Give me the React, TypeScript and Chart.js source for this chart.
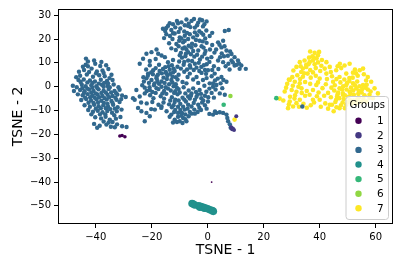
import React, { useEffect, useRef } from "react";
import { Chart, registerables } from "chart.js";
Chart.register(...registerables);

// ---------- data ----------
const groupLabels = ["1", "2", "3", "4", "5", "6", "7"];
const groupColors = ["#440154", "#443983", "#31688e", "#21918c", "#35b779", "#90d743", "#fde725"];
const xTicks = [-40, -20, 0, 20, 40, 60];
const yTicks = [-50, -40, -30, -20, -10, 0, 10, 20, 30];
const xLabel = "TSNE - 1";
const yLabel = "TSNE - 2";
const legendTitle = "Groups";

const group1Points: number[][] = [[-31.4, -20.7], [-30.6, -20.5], [-29.6, -21.0], [1.4, -40.0]];
const group1Sizes = [1.8, 1.8, 1.8, 0.9];

const group2Points: number[][] = [[8.7, -17.9], [9.4, -18.2], [9.0, -17.5], [8.4, -17.0], [10.2, -12.4]];

const group3Points: number[][] = [
  // left cluster
  [-43.5, 11.8], [-42.8, 10.6], [-43.6, 9.2], [-40.2, 9.6], [-38.4, 8.7], [-36.3, 9.0],
  [-41.5, 7.6], [-44.2, 7.0], [-39.6, 6.4], [-37.6, 6.8], [-35.5, 7.4], [-46.0, 6.3],
  [-45.6, 4.6], [-43.2, 5.1], [-41.0, 4.2], [-38.8, 4.8], [-36.8, 4.4], [-34.4, 5.0], [-47.0, 4.0], [-39.9, 5.6],
  [-46.2, 2.8], [-44.3, 3.0], [-42.1, 2.6], [-40.3, 2.2], [-38.2, 2.9], [-36.0, 2.4], [-34.0, 2.8], [-35.1, 3.6], [-43.0, 1.8],
  [-48.2, 0.4], [-46.8, -0.2], [-45.0, 0.8], [-43.6, 0.2], [-41.6, 0.6], [-39.8, 0.2], [-37.8, 0.8], [-35.8, 0.3], [-33.6, 0.9], [-31.9, -0.2], [-38.9, 1.3],
  [-47.8, -1.8], [-45.6, -1.4], [-44.0, -1.9], [-42.4, -1.2], [-40.8, -1.8], [-39.0, -1.1], [-37.2, -1.7], [-35.4, -1.0], [-33.3, -1.8], [-31.5, -1.3], [-41.6, -2.5], [-38.0, -2.6], [-34.5, -2.4],
  [-46.4, -3.2], [-44.7, -3.6], [-42.9, -3.1], [-41.2, -3.8], [-39.4, -3.3], [-37.6, -3.9], [-35.8, -3.4], [-34.0, -3.9], [-32.3, -3.3], [-30.6, -3.7], [-29.3, -4.3], [-26.7, -4.8], [-40.4, -4.6], [-36.8, -4.8],
  [-45.2, -5.6], [-43.4, -5.2], [-41.7, -5.8], [-39.8, -5.3], [-38.0, -5.9], [-36.1, -5.4], [-34.4, -6.0], [-32.6, -5.5], [-30.9, -5.2], [-31.5, -6.4], [-37.1, -6.8], [-42.6, -6.7],
  [-44.0, -7.8], [-42.1, -8.4], [-40.6, -7.6], [-39.0, -8.2], [-37.3, -7.8], [-35.6, -8.4], [-33.8, -7.6], [-32.2, -8.6], [-36.4, -9.0], [-40.0, -9.2],
  [-42.7, -9.8], [-41.0, -10.5], [-39.3, -10.1], [-37.6, -10.7], [-35.9, -10.2], [-34.2, -10.9], [-32.5, -10.3], [-30.8, -9.6], [-38.5, -11.6], [-33.4, -12.0],
  [-40.2, -12.8], [-38.1, -13.3], [-36.5, -12.6], [-35.0, -13.8], [-32.8, -13.4], [-31.2, -12.7], [-37.2, -14.6], [-34.0, -14.8],
  [-40.6, -15.6], [-38.6, -16.4], [-36.2, -15.9], [-34.6, -16.8], [-32.4, -15.8], [-30.6, -16.6], [-29.0, -16.9], [-39.5, -17.2],
  [-44.8, -0.6], [-43.0, -0.8], [-41.2, -0.4], [-39.4, -0.6], [-37.2, 0.0], [-35.0, -0.2], [-45.4, 2.0], [-41.2, 1.6], [-37.0, 1.6], [-35.6, 1.4],
  [-43.8, -4.6], [-42.0, -4.4], [-38.8, -4.4], [-35.2, -4.4], [-33.0, -4.6], [-44.2, -2.6], [-40.0, -2.8], [-36.4, -2.4], [-32.8, -2.6],
  [-40.8, -6.8], [-39.2, -6.6], [-35.8, -7.2], [-34.0, -6.8], [-38.2, -9.0], [-34.8, -9.4], [-33.2, -9.2], [-41.6, -11.6], [-36.6, -11.6],
  [-35.4, -15.0], [-33.2, -17.0], [-42.8, 8.6], [-40.6, 11.0], [-38.0, 10.4], [-37.2, 5.8], [-42.4, 6.2], [-44.6, 8.4],
  // middle cluster
  [-7.6, 28.2], [-5.8, 27.6], [-3.4, 26.9], [-6.8, 26.4], [-2.0, 27.9], [-4.9, 28.4], [-12.4, 26.2], [-14.2, 25.5], [-10.6, 26.6], [-1.2, 26.2],
  [-16.0, 24.3], [-15.2, 23.4], [-11.6, 24.9], [-9.8, 24.4], [-7.0, 25.5], [-4.6, 24.8], [-1.7, 25.3], [-0.5, 23.6], [-8.4, 23.2], [-13.0, 23.8], [-3.0, 23.3], [6.1, 23.4], [7.5, 23.8],
  [-11.8, 22.3], [-13.5, 21.3], [-10.0, 20.7], [-6.4, 22.0], [-5.2, 20.7], [-2.3, 22.6], [0.7, 21.3], [-8.2, 21.4], [-3.8, 21.6], [-0.9, 20.2], [-14.8, 22.0], [1.6, 22.6],
  [-11.2, 17.9], [-8.8, 18.6], [-8.2, 19.3], [-2.9, 19.3], [-5.6, 18.0], [-0.4, 18.4], [3.7, 18.6], [5.5, 19.3], [-13.8, 18.2], [-6.8, 17.2], [1.6, 17.5], [-10.2, 19.3],
  [-8.2, 16.5], [-5.8, 16.5], [-3.4, 15.2], [-7.0, 14.5], [-1.5, 16.4], [0.8, 15.6], [4.9, 16.5], [6.7, 15.2], [-11.4, 15.4], [-9.6, 14.2], [2.4, 14.3],
  [-18.3, 15.6], [-20.1, 14.5], [-21.9, 13.8], [-17.7, 13.8], [-16.5, 13.1], [-15.3, 12.4], [-23.1, 11.7], [-13.0, 16.1],
  [-1.1, 13.8], [1.3, 12.4], [8.5, 13.7], [9.6, 12.4], [10.8, 11.0], [8.5, 11.0], [3.7, 11.0], [-7.0, 11.0], [-4.8, 12.6], [-9.2, 12.2], [-12.4, 11.2], [-14.2, 10.3], [-24.3, 9.6], [-2.8, 11.4], [5.8, 12.8], [-18.6, 11.6], [-20.7, 10.8],
  [12.0, 8.9], [13.6, 7.5], [11.4, 7.5], [9.6, 8.9], [7.4, 9.6], [5.5, 10.3], [-4.6, 9.6], [-2.3, 8.3], [-6.2, 8.0], [-8.6, 9.2], [-10.8, 8.4], [-12.8, 9.0], [-15.2, 8.2], [-17.4, 9.2], [-20.7, 9.0], [-19.5, 6.9], [-0.4, 9.4], [2.2, 8.6], [3.8, 7.4], [-13.6, 7.1], [-1.0, 7.0],
  [0.1, 6.9], [2.5, 5.5], [4.9, 4.1], [-6.4, 5.5], [-4.0, 4.1], [-8.4, 6.3], [-10.4, 5.0], [-12.4, 6.0], [-14.4, 4.6], [-16.4, 5.6], [-18.3, 4.2], [-21.3, 5.5], [-2.2, 5.8], [-11.4, 4.0], [-7.2, 4.1], [1.4, 4.4], [-17.2, 6.6], [-15.0, 6.2],
  [6.7, 2.1], [-1.7, 2.8], [0.7, 1.4], [-7.6, 1.4], [-21.9, 3.5], [-20.1, 2.8], [-18.3, 3.5], [-16.5, 2.2], [-14.6, 3.2], [-12.6, 1.8], [-10.8, 3.0], [-9.0, 2.0], [-5.2, 3.0], [-3.4, 1.6], [2.6, 2.6], [4.6, 1.4], [-13.8, 1.0], [-19.0, 1.4], [-0.4, 3.6],
  [3.1, 0.7], [1.9, 0.0], [-5.2, -0.7], [-2.9, -1.4], [-0.5, -2.1], [-16.5, 0.0], [-18.3, -0.6], [-20.7, -1.4], [-14.2, -0.8], [-12.2, 0.2], [-10.4, -1.0], [-8.6, -0.2], [-6.8, -1.6], [-22.5, -0.4], [-25.5, -1.4], [-1.2, 0.4], [5.2, -0.6], [-11.6, -1.9], [-15.6, -1.8],
  [-7.0, -4.1], [-4.6, -5.5], [-2.3, -4.8], [-22.5, -2.8], [-24.3, -4.1], [-26.1, -5.5], [-20.6, -3.6], [-18.6, -2.6], [-16.8, -4.0], [-14.8, -3.0], [-12.8, -4.4], [-10.8, -3.2], [-9.0, -4.6], [-5.8, -2.8], [-3.6, -3.2], [-1.0, -3.8], [1.4, -2.6], [-19.4, -4.8], [-15.6, -5.0], [-11.6, -5.4],
  [0.1, -6.2], [-3.4, -7.6], [-5.8, -8.3], [-7.8, -6.2], [-9.8, -7.2], [-11.8, -6.4], [-13.8, -7.4], [-15.8, -6.6], [-17.6, -7.6], [-19.8, -6.4], [-21.8, -7.0], [-23.8, -6.6], [-24.9, -8.9], [-1.6, -5.8], [-8.8, -8.4], [-12.8, -8.6], [-16.6, -8.9],
  [-23.7, -10.3], [-21.9, -11.0], [-18.9, -9.6], [-16.5, -8.3], [-14.7, -10.3], [-13.0, -11.7], [-10.6, -11.0], [-8.2, -9.6], [-6.4, -10.6], [-4.6, -11.3], [-5.8, -11.3], [-20.2, -9.4], [-11.6, -9.8], [-2.4, -9.8], [-8.0, -11.6],
  [-20.7, -12.4], [-22.5, -14.5], [-11.8, -13.8], [-10.0, -14.5], [-8.8, -13.1], [-7.6, -14.5], [-13.6, -12.6], [-12.4, -15.0], [-9.4, -12.2],
  [-22.0, 7.2], [-20.2, 6.0], [-18.6, 7.8], [-16.0, 7.4], [-14.0, 8.6], [-12.2, 7.6], [-21.4, 4.6], [-19.6, 5.2], [-17.8, 5.0], [-15.8, 3.8], [-13.4, 5.4], [-11.8, 6.6],
  [-22.8, 2.2], [-21.0, 1.6], [-19.2, 0.6], [-17.4, 1.2], [-15.4, 1.6], [-13.0, 2.8], [-11.4, 1.0], [-23.4, 0.6], [-21.8, -1.8], [-19.8, -2.2], [-17.6, -1.0], [-15.0, -0.2],
  [-13.2, -1.6], [-11.0, -0.4], [-20.8, -0.2], [-16.2, -2.8], [-23.0, 4.0], [-18.0, 2.4], [-14.8, 5.6], [-12.6, 4.2],
  [-10.4, 17.0], [-9.0, 16.0], [-7.6, 15.6], [-4.4, 17.4], [-2.2, 17.0], [-0.8, 15.0], [-10.0, 13.2], [-8.0, 12.8], [-6.0, 13.6], [-3.8, 13.4], [-2.0, 12.6], [-0.2, 11.8],
  [-10.2, 10.6], [-8.4, 10.4], [-5.6, 10.8], [-3.2, 10.0], [-1.4, 9.0], [0.6, 10.4], [-9.6, 7.6], [-7.4, 7.2], [-5.0, 7.0], [-3.0, 6.6], [-0.6, 5.4], [1.6, 7.0],
  [-6.4, 9.0], [-4.0, 8.0], [-7.8, 13.8], [-5.2, 15.0],
  [-12.0, -2.6], [-10.0, -2.4], [-8.0, -2.8], [-6.0, -3.8], [-4.2, -2.2], [-2.4, -3.0], [-13.4, -5.8], [-10.4, -5.8], [-8.4, -5.4], [-6.4, -5.0], [-4.0, -4.2], [-2.0, -6.6],
  [-12.2, -7.8], [-10.6, -8.4], [-7.0, -7.6], [-5.0, -6.8], [-3.0, -8.8], [-1.0, -7.8], [-9.8, -9.8], [-7.2, -9.2], [-4.8, -9.6], [-3.6, -10.6], [-12.0, -10.6], [-9.2, -11.0],
  [-6.8, -12.4], [-10.6, -12.6], [-8.0, -13.6], [-11.0, -14.8], [-9.0, -15.2],
  [-14.8, 24.6], [-13.6, 26.6], [-11.0, 27.6], [-9.4, 27.0], [-8.2, 25.8], [-6.2, 25.0], [-3.8, 25.8], [-12.4, 22.4], [-10.4, 23.0], [-7.4, 22.6], [-4.6, 22.8], [-1.6, 21.8],
  [-12.6, 20.0], [-9.4, 20.2], [-7.0, 20.0], [-4.2, 19.6], [-1.8, 19.0], [-15.6, 20.4], [-2.8, 28.2], [-0.4, 27.4],
  [4.2, 17.6], [6.0, 17.0], [5.0, 14.0], [7.2, 13.0], [9.0, 10.2], [10.4, 9.2], [6.4, 8.6], [4.4, 12.4], [3.0, 15.6], [8.0, 14.8], [11.2, 9.8], [7.8, 7.2],
  [1.9, 1.4], [4.3, -2.8], [6.1, -3.4], [0.6, -0.8], [2.8, -1.2], [3.6, 3.4], [5.6, 2.8], [0.2, -4.4], [2.2, -4.6], [-0.4, -9.2],
  // tail
  [1.9, -11.7], [3.1, -11.0], [4.3, -10.7], [5.5, -11.0], [6.7, -11.7], [7.0, -13.1], [7.3, -14.5], [7.9, -15.8], [8.2, -17.2], [2.6, -10.4], [0.6, -11.4],
  // stray in right cluster
  [33.8, -8.3],
];

const group4Points: number[][] = [
  [-5.6, -49.0], [-5.2, -49.2], [-4.6, -49.6], [-3.2, -50.0], [-2.8, -50.6], [-2.4, -50.3], [-1.6, -50.6],
  [-1.2, -51.0], [-0.8, -50.9], [0.0, -51.2], [0.8, -51.6], [1.6, -52.0], [2.0, -52.3],
];

const group5Points: number[][] = [[5.7, -7.6], [24.5, -4.8]];
const group6Points: number[][] = [[8.1, -3.9]];

const group7Points: number[][] = [
  [9.6, -13.8],
  [36.6, 14.8], [38.2, 14.2], [39.4, 13.2], [37.4, 12.8], [38.9, 11.9], [36.2, 12.2], [39.8, 14.6],
  [37.6, 11.0], [36.4, 10.3], [32.9, 10.3], [34.6, 11.0], [39.4, 10.2], [38.2, 9.4], [42.4, 10.3], [35.2, 9.2], [40.8, 11.2], [47.2, 9.6], [48.9, 8.9], [50.7, 9.6],
  [31.7, 8.3], [35.2, 8.3], [33.4, 6.2], [34.0, 7.6], [36.6, 7.0], [38.6, 7.8], [40.2, 6.6], [41.8, 7.6], [43.6, 8.3], [45.9, 6.9], [47.7, 7.8], [54.3, 6.9], [55.5, 7.6], [52.6, 7.2], [30.6, 6.8], [37.6, 6.0],
  [35.7, 5.5], [32.0, 4.8], [30.2, 4.0], [34.0, 4.2], [36.8, 3.8], [38.6, 4.6], [42.4, 5.5], [40.0, 3.4], [44.4, 4.4], [47.1, 4.1], [49.5, 5.5], [51.9, 5.9], [53.6, 4.6], [55.8, 5.2], [57.2, 4.1], [46.0, 3.2], [50.6, 3.6], [33.0, 3.2], [29.0, 3.0],
  [29.3, 2.8], [31.1, 2.1], [32.9, 1.4], [34.8, 2.0], [36.6, 1.2], [38.8, 0.7], [44.8, 2.1], [51.9, 1.4], [49.5, 0.7], [55.5, 0.7], [58.4, 2.1], [47.4, 1.8], [53.4, 2.2], [42.2, 1.0], [56.6, 2.6], [30.4, 0.4], [28.4, 1.2], [54.2, 0.2], [50.6, 2.4], [48.4, 0.2],
  [30.0, -1.4], [31.7, -2.1], [33.5, -0.7], [35.4, -1.8], [37.6, -1.4], [39.6, -2.4], [47.1, -0.7], [50.7, -2.1], [53.1, -0.7], [59.6, -0.7], [48.3, -2.8], [52.0, -1.6], [55.0, -2.4], [57.2, -1.2], [45.2, -1.6], [43.0, -2.6], [27.5, -2.0], [49.6, -1.2], [54.0, -1.8], [56.4, -0.4], [58.2, -2.0], [51.2, -0.4],
  [32.9, -5.5], [37.6, -5.5], [40.0, -5.5], [45.9, -5.5], [48.3, -3.4], [60.8, -2.8], [59.0, -4.8], [29.4, -4.2], [34.8, -3.8], [36.4, -3.4], [41.6, -3.8], [44.0, -4.4], [47.0, -4.8], [50.2, -4.2], [52.2, -3.4], [54.0, -4.6], [56.0, -3.6], [57.8, -3.4], [50.8, -5.6], [53.4, -5.4], [55.6, -5.2], [31.2, -3.6], [39.0, -4.0], [46.4, -3.2], [49.0, -3.6],
  [29.3, -6.2], [31.7, -6.9], [30.5, -8.3], [28.7, -9.0], [25.7, -5.0], [27.0, -5.8], [34.2, -7.2], [36.8, -7.8], [42.0, -7.0], [44.4, -7.6], [47.1, -9.0], [49.5, -7.6], [53.1, -6.9], [56.7, -6.2], [43.6, -7.6], [51.4, -7.2], [45.6, -6.4], [48.2, -6.6], [35.4, -8.8], [32.6, -8.4],
  [45.0, -10.3],
  [45.4, 0.6], [46.6, -2.4], [48.0, -1.2], [49.8, 1.6], [51.0, -3.0], [52.6, 0.6], [53.8, -3.0], [55.2, -1.0], [56.8, 0.8], [57.8, -4.6], [44.2, -0.4], [46.2, -4.2],
  [48.6, -5.2], [50.0, -6.4], [52.2, -5.8], [54.8, -6.4], [47.6, -7.8], [46.0, -8.6], [49.0, -9.0], [51.8, 3.8], [48.8, 3.0], [53.0, 5.6], [44.0, 6.2], [46.4, 8.6],
  [40.6, 8.8], [42.6, 3.2], [39.4, 1.8], [41.0, -0.6], [38.0, -6.6], [33.6, -2.6], [32.4, 0.0], [34.4, 5.6], [36.0, 9.4], [37.8, 12.2], [33.2, 8.6], [31.0, -5.0],
  [29.0, -7.4], [28.0, -0.4], [40.4, -8.4], [43.0, -9.2],
];

const groupPoints = [group1Points, group2Points, group3Points, group4Points, group5Points, group6Points, group7Points];
const groupRadii: (number | number[])[] = [group1Sizes, 2.0, 2.2, 3.8, 2.3, 2.3, 2.3];

const fmt = (v: number) => (v < 0 ? "\u2212" + Math.abs(v) : String(v));

const framePlugin = {
  id: "frameAndLegend",
  afterDraw(chart: any) {
    const { ctx, chartArea } = chart;
    ctx.save();
    ctx.strokeStyle = "#000";
    ctx.lineWidth = 1;
    ctx.strokeRect(
      Math.round(chartArea.left) + 0.5,
      Math.round(chartArea.top) + 0.5,
      Math.round(chartArea.right - chartArea.left) - 1,
      Math.round(chartArea.bottom - chartArea.top) - 1
    );
    // legend box (inside the plot, lower right)
    const bx = 346, by = 96.5, bw = 42.5, bh = 123;
    ctx.beginPath();
    ctx.roundRect(bx, by, bw, bh, 3);
    ctx.fillStyle = "rgba(255,255,255,0.8)";
    ctx.fill();
    ctx.strokeStyle = "#cccccc";
    ctx.stroke();
    ctx.fillStyle = "#000";
    ctx.font = "10px 'DejaVu Sans'";
    ctx.textAlign = "center";
    ctx.textBaseline = "middle";
    ctx.fillText(legendTitle, bx + bw / 2, 105.5);
    groupLabels.forEach((lab, i) => {
      const y = 120.7 + i * 14.6;
      ctx.beginPath();
      ctx.arc(358.5, y, 3.2, 0, Math.PI * 2);
      ctx.fillStyle = groupColors[i];
      ctx.fill();
      ctx.fillStyle = "#000";
      ctx.textAlign = "left";
      ctx.font = "10.5px 'DejaVu Sans'";
      ctx.fillText(lab, 377, y + 0.5);
    });
    ctx.restore();
  },
};

export default function App() {
  const ref = useRef<HTMLCanvasElement | null>(null);
  useEffect(() => {
    document.body.style.margin = "0";
    const canvas = ref.current;
    if (!canvas) return;
    Chart.defaults.font.family = "'DejaVu Sans'";
    const chart = new Chart(canvas, {
      type: "scatter",
      data: {
        datasets: groupLabels.map((lab, i) => ({
          label: lab,
          data: groupPoints[i].map((p) => ({ x: p[0], y: p[1] })),
          backgroundColor: groupColors[i],
          borderWidth: 0,
          pointRadius: groupRadii[i] as any,
          pointHoverRadius: groupRadii[i] as any,
        })),
      },
      options: {
        animation: false,
        responsive: false,
        devicePixelRatio: 1,
        layout: { padding: { left: 0, right: 8, top: 6, bottom: 0 } },
        plugins: { legend: { display: false }, tooltip: { enabled: false } },
        scales: {
          x: {
            type: "linear",
            min: -53.5,
            max: 66.2,
            afterBuildTicks: (s: any) => {
              s.ticks = xTicks.map((v) => ({ value: v }));
            },
            afterFit: (s: any) => {
              s.height = 38;
            },
            ticks: {
              callback: (v: any) => fmt(Number(v)),
              font: { size: 10, family: "'DejaVu Sans'" },
              color: "#000",
              padding: 3,
              maxRotation: 0,
              autoSkip: false,
            },
            grid: { display: true, drawOnChartArea: false, drawTicks: true, tickLength: 4, color: "#000", lineWidth: 1 },
            border: { display: false },
            title: {
              display: true,
              text: xLabel,
              color: "#000",
              font: { size: 14, family: "'DejaVu Sans'" },
              padding: { top: 0, bottom: 3 },
            },
          },
          y: {
            type: "linear",
            min: -57.6,
            max: 32.6,
            afterBuildTicks: (s: any) => {
              s.ticks = yTicks.map((v) => ({ value: v }));
            },
            afterFit: (s: any) => {
              s.width = 58;
            },
            ticks: {
              callback: (v: any) => fmt(Number(v)),
              font: { size: 10, family: "'DejaVu Sans'" },
              color: "#000",
              padding: 3,
              autoSkip: false,
            },
            grid: { display: true, drawOnChartArea: false, drawTicks: true, tickLength: 4, color: "#000", lineWidth: 1 },
            border: { display: false },
            title: {
              display: true,
              text: yLabel,
              color: "#000",
              font: { size: 14, family: "'DejaVu Sans'" },
              padding: { top: 10, bottom: 0 },
            },
          },
        },
      },
      plugins: [framePlugin],
    });
    return () => chart.destroy();
  }, []);
  return (
    <div style={{ position: "fixed", left: 0, top: 0, width: 401, height: 262 }}>
      <canvas ref={ref} width={401} height={262} style={{ width: 401, height: 262, display: "block" }} />
    </div>
  );
}
